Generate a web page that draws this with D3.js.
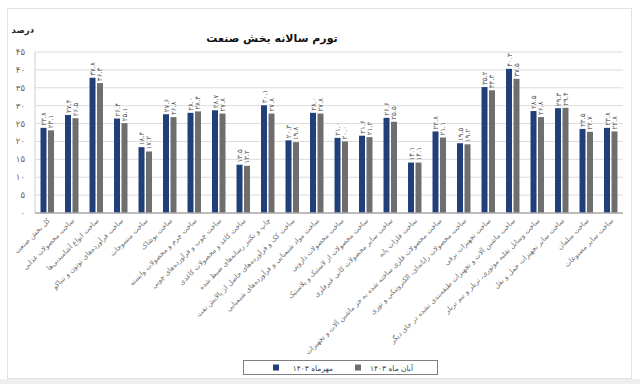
<!DOCTYPE html>
<html><head><meta charset="utf-8">
<script src="https://cdn.jsdelivr.net/npm/d3@7/dist/d3.min.js"></script>
<style>
html,body{margin:0;padding:0;background:#fff;}
svg{display:block;}
text{font-family:"DejaVu Sans",sans-serif;}
</style></head>
<body>
<svg id="chart" width="640" height="384"></svg>
<script>
const categories = [
  "کل بخش صنعت",
  "ساخت محصولات غذایی",
  "ساخت انواع آشامیدنی‌ها",
  "ساخت فرآورده‌های توتون و تنباکو",
  "ساخت منسوجات",
  "ساخت پوشاک",
  "ساخت چرم و محصولات وابسته",
  "ساخت چوب و فرآورده‌های چوبی",
  "ساخت کاغذ و محصولات کاغذی",
  "چاپ و تکثیر رسانه‌های ضبط شده",
  "ساخت کک و فرآورده‌های حاصل از پالایش نفت",
  "ساخت مواد شیمیایی و فرآورده‌های شیمیایی",
  "ساخت محصولات دارویی",
  "ساخت محصولات از لاستیک و پلاستیک",
  "ساخت سایر محصولات کانی غیرفلزی",
  "ساخت فلزات پایه",
  "ساخت محصولات فلزی ساخته شده به جز ماشین آلات و تجهیزات",
  "ساخت محصولات رایانه‌ای، الکترونیکی و نوری",
  "ساخت تجهیزات برقی",
  "ساخت ماشین آلات و تجهیزات طبقه‌بندی نشده در جای دیگر",
  "ساخت وسایل نقلیه موتوری، تریلر و نیم تریلر",
  "ساخت سایر تجهیزات حمل و نقل",
  "ساخت مبلمان",
  "ساخت سایر مصنوعات"
];
const seriesNames = ["مهرماه ۱۴۰۳", "آبان ماه ۱۴۰۳"];
const mehr = [23.8, 27.4, 37.8, 26.4, 18.4, 27.6, 28.0, 28.7, 13.5, 30.1, 20.3, 28.0, 21.0, 21.6, 26.6, 14.1, 22.8, 19.5, 35.2, 40.3, 28.5, 29.3, 23.5, 23.8];
const aban = [23.1, 26.5, 36.3, 25.1, 17.2, 26.8, 28.4, 27.8, 13.2, 27.8, 19.8, 27.8, 20.0, 21.2, 25.5, 14.1, 21.1, 19.2, 34.3, 37.5, 26.8, 29.4, 22.7, 22.8];
const yTicks = [0, 5, 10, 15, 20, 25, 30, 35, 40, 45];
const title = "تورم سالانه بخش صنعت";
const yLabel = "درصد";
const colors = ["#213f78", "#6e6e6e"];

const fa = s => String(s).replace(/[0-9]/g, d => "۰۱۲۳۴۵۶۷۸۹"[+d]);
const svg = d3.select("#chart");

// frame
svg.append("rect").attr("x",0).attr("y",379).attr("width",640).attr("height",5).attr("fill","#eeeeee");
svg.append("rect").attr("x",7.5).attr("y",8.5).attr("width",624).attr("height",370)
  .attr("fill","#fff").attr("stroke","#e2e2e2");

const pLeft = 35, pRight = 623, pTop = 52, pBottom = 213;
const x0 = d3.scaleBand().domain(categories).range([pLeft, pRight]).paddingInner(0.45).paddingOuter(0.225);
const x1 = d3.scaleBand().domain([0,1]).range([0, x0.bandwidth()]).paddingInner(0.2);
const y = d3.scaleLinear().domain([0, 45]).range([pBottom, pTop]);

// gridlines
svg.append("g").selectAll("line").data(yTicks.filter(t => t > 0)).join("line")
  .attr("x1", pLeft).attr("x2", pRight)
  .attr("y1", d => y(d)).attr("y2", d => y(d))
  .attr("stroke", "#dcdcdc").attr("stroke-width", 1);
// y axis line
svg.append("line").attr("x1", pLeft).attr("x2", pLeft).attr("y1", pTop).attr("y2", pBottom)
  .attr("stroke", "#cfcfcf");

// y tick labels
svg.append("g").selectAll("text").data(yTicks).join("text")
  .attr("x", 25).attr("y", d => y(d) + 3)
  .attr("text-anchor", "end").attr("font-size", 8.5).attr("fill", "#666")
  .text(d => fa(d));

// bars
const data = categories.map((c, i) => ({c, vals: [mehr[i], aban[i]]}));
const groups = svg.append("g").selectAll("g").data(data).join("g")
  .attr("transform", d => `translate(${x0(d.c)},0)`);
groups.selectAll("rect").data(d => d.vals.map((v, k) => ({v, k}))).join("rect")
  .attr("x", d => x1(d.k)).attr("width", x1.bandwidth())
  .attr("y", d => y(d.v)).attr("height", d => y(0) - y(d.v))
  .attr("fill", d => colors[d.k]);
groups.selectAll("text.val").data(d => d.vals.map((v, k) => ({v, k}))).join("text")
  .attr("class", "val")
  .attr("transform", d => `translate(${x1(d.k) + x1.bandwidth()/2 + 2.5},${y(d.v) - 2}) rotate(-90)`)
  .attr("font-size", 7).attr("fill", "#555")
  .text(d => fa(d.v.toFixed(1)));

// x axis line
svg.append("line").attr("x1", pLeft).attr("x2", pRight).attr("y1", pBottom).attr("y2", pBottom)
  .attr("stroke", "#a6a6a6").attr("stroke-width", 1.5);

// category labels
svg.append("g").selectAll("text").data(categories).join("text")
  .attr("transform", d => `translate(${x0(d) + x0.bandwidth()/2 + 3},${pBottom + 8}) rotate(-45)`)
  .attr("text-anchor", "end").attr("font-size", 7).attr("fill", "#6f6f6f")
  .text(d => d);

// title
svg.append("text").attr("x", 272).attr("y", 42).attr("text-anchor", "middle")
  .attr("font-size", 11).attr("font-weight", "bold").attr("fill", "#111").text(title);
svg.append("text").attr("x", 34).attr("y", 33).attr("text-anchor", "end")
  .attr("font-size", 8.5).attr("font-weight", "bold").attr("fill", "#222").text(yLabel);

// legend
const lg = svg.append("g");
lg.append("rect").attr("x", 243.5).attr("y", 360.5).attr("width", 194).attr("height", 14)
  .attr("fill", "#fff").attr("stroke", "#7f7f7f");
const legItems = [{name: seriesNames[0], color: colors[0], sx: 273, tx: 333},
                  {name: seriesNames[1], color: colors[1], sx: 355, tx: 413}];
legItems.forEach(it => {
  lg.append("rect").attr("x", it.sx).attr("y", 364.5).attr("width", 6).attr("height", 6).attr("fill", it.color);
  lg.append("text").attr("x", it.tx).attr("y", 370.5).attr("text-anchor", "end")
    .attr("font-size", 7.5).attr("fill", "#404040").text(it.name);
});
</script>
</body></html>
